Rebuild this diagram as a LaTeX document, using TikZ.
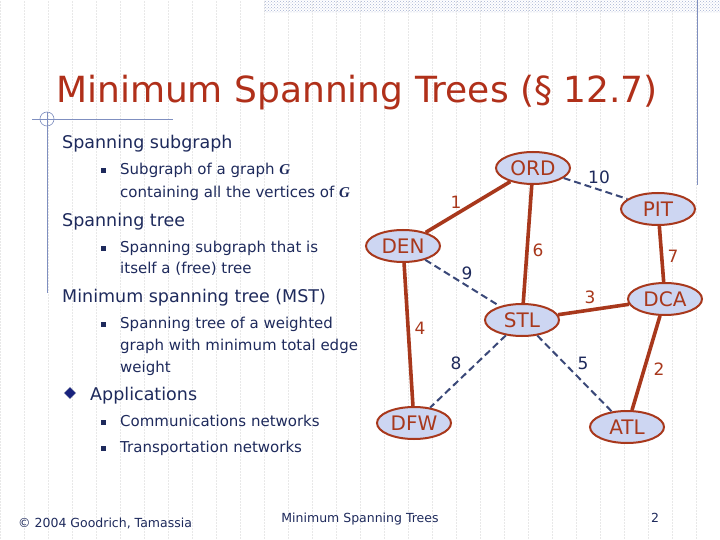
\documentclass[tikz,border=0pt]{standalone}
\usepackage{fontspec}
\setmainfont{DejaVu Sans}
\newfontfamily\gfont{Liberation Serif}
\usetikzlibrary{shapes.geometric,patterns}
\definecolor{rd}{HTML}{A8381C}
\definecolor{ttl}{HTML}{B0301A}
\definecolor{nv}{HTML}{1E2A5C}
\definecolor{efill}{HTML}{CDD6F2}
\definecolor{dsh}{HTML}{3A4878}
\definecolor{deco}{HTML}{7F8FC0}
\tikzset{
  city/.style={ellipse,draw=rd,line width=2pt,fill=efill,minimum width=74pt,minimum height=32pt,inner sep=0pt,text=rd,font=\fontsize{20}{20}\selectfont},
  tree/.style={draw=rd,line width=3.6pt},
  nontree/.style={draw=dsh,line width=2pt,dashed,dash pattern=on 7pt off 4pt},
  wr/.style={text=rd,font=\fontsize{17}{17}\selectfont},
  wb/.style={text=nv,font=\fontsize{17}{17}\selectfont},
  head/.style={anchor=base west,text=nv,font=\fontsize{17.5}{20}\selectfont,inner sep=0pt},
  item/.style={anchor=base west,text=nv,font=\fontsize{15}{18}\selectfont,inner sep=0pt},
  bul/.style={fill=nv,minimum size=5pt,inner sep=0pt},
}
\begin{document}
\begin{tikzpicture}[x=1pt,y=-1pt]
\useasboundingbox (0,0) rectangle (720,540);
\fill[white] (0,0) rectangle (720,540);
\draw[gray!18,densely dotted,line width=0.5pt] (0,0) grid[step=24] (720,540);
\fill[pattern=crosshatch dots,pattern color=deco!70] (264,0) rectangle (720,13);
\draw[deco,line width=0.8pt] (697,0) -- (697,185);
\draw[deco,line width=0.8pt] (32,119) -- (173,119);
\draw[deco,line width=0.8pt] (47,112) -- (47,293);
\draw[deco,line width=0.6pt] (47,119) circle (7);
\node[anchor=base west,text=ttl,font=\fontsize{36}{36}\selectfont,inner sep=0pt] (title) at (56,103) {Minimum Spanning Trees (§ 12.7)};
% left text
\node[head] (h1) at (62,149) {Spanning subgraph};
\node[bul] (b1) at (103,171) {};
\node[item] (i1a) at (120,175) {Subgraph of a graph {\gfont\itshape\bfseries G}};
\node[item] (i1b) at (120,197) {containing all the vertices of {\gfont\itshape\bfseries G}};
\node[head] (h2) at (62,226) {Spanning tree};
\node[bul] (b2) at (103,248) {};
\node[item] (i2a) at (120,252) {Spanning subgraph that is};
\node[item] (i2b) at (120,273) {itself a (free) tree};
\node[head] (h3) at (62,302) {Minimum spanning tree (MST)};
\node[bul] (b3) at (103,324) {};
\node[item] (i3a) at (120,328) {Spanning tree of a weighted};
\node[item] (i3b) at (120,350) {graph with minimum total edge};
\node[item] (i3c) at (120,372) {weight};
\node[diamond,fill=nv!80!blue,draw=nv!40,minimum size=12pt,inner sep=0pt] (dm) at (70,393) {};
\node[head] (h4) at (90,400) {Applications};
\node[bul] (b4) at (103,422) {};
\node[item] (i4) at (120,426) {Communications networks};
\node[bul] (b5) at (103,448) {};
\node[item] (i5) at (120,452) {Transportation networks};
% footer
\node[anchor=base west,text=nv,font=\fontsize{12.5}{12}\selectfont,inner sep=0pt] (f1) at (18,527) {© 2004 Goodrich, Tamassia};
\node[anchor=base,text=nv,font=\fontsize{12.5}{12}\selectfont,inner sep=0pt] (f2) at (360,522) {Minimum Spanning Trees};
\node[anchor=base,text=nv,font=\fontsize{12.5}{12}\selectfont,inner sep=0pt] (f3) at (655,522) {2};
% graph
\node[city] (ORD) at (533,168) {ORD};
\node[city] (PIT) at (658,209) {PIT};
\node[city] (DEN) at (403,246) {DEN};
\node[city] (STL) at (522,320) {STL};
\node[city] (DCA) at (665,299) {DCA};
\node[city] (DFW) at (414,423) {DFW};
\node[city] (ATL) at (627,427) {ATL};
\draw[tree] (ORD) -- (DEN);
\draw[tree] (ORD) -- (STL);
\draw[tree] (DEN) -- (DFW);
\draw[tree] (STL) -- (DCA);
\draw[tree] (PIT) -- (DCA);
\draw[tree] (DCA) -- (ATL);
\draw[nontree] (ORD) -- (PIT);
\draw[nontree] (DEN) -- (STL);
\draw[nontree] (STL) -- (DFW);
\draw[nontree] (STL) -- (ATL);
\node[wr] (w1) at (456,202) {1};
\node[wb] (w10) at (599,177) {10};
\node[wr] (w6) at (538,250) {6};
\node[wr] (w7) at (673,256) {7};
\node[wb] (w9) at (467,273) {9};
\node[wr] (w3) at (590,297) {3};
\node[wr] (w4) at (420,328) {4};
\node[wb] (w8) at (456,363) {8};
\node[wb] (w5) at (583,363) {5};
\node[wr] (w2) at (659,369) {2};
\end{tikzpicture}
\end{document}
